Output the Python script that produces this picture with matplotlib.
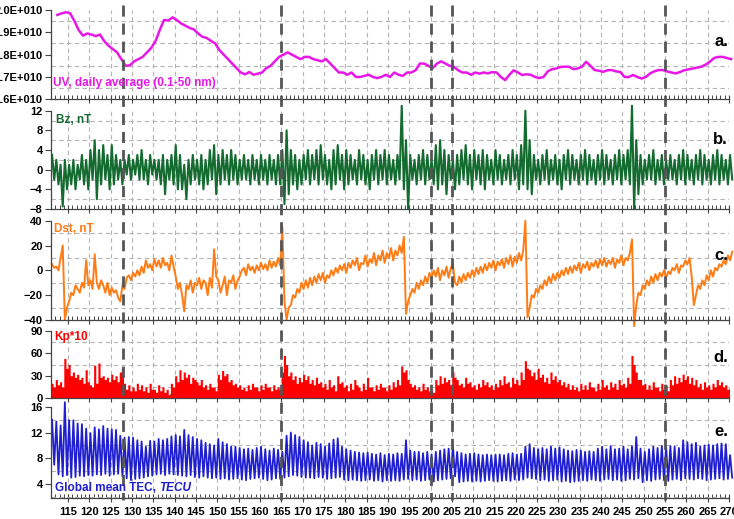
import numpy as np
import matplotlib
matplotlib.use("Agg")
import matplotlib.pyplot as plt
from matplotlib.ticker import MultipleLocator, FuncFormatter
from matplotlib.lines import Line2D
import matplotlib.transforms as mtransforms

plt.rcParams['font.family'] = ['Liberation Sans', 'DejaVu Sans']
plt.rcParams['font.weight'] = 'bold'

# ---------------- data ----------------
days = np.arange(111, 271)          # day of year
uv_days = np.arange(112, 271)

# UV daily average flux, units of 1e10
uv = [1.978, 1.985, 1.99, 1.985, 1.95, 1.91, 1.885, 1.895, 1.89, 1.883,
      1.89, 1.86, 1.84, 1.825, 1.81, 1.78, 1.75, 1.752, 1.77, 1.78,
      1.79, 1.81, 1.83, 1.86, 1.91, 1.955, 1.953, 1.967, 1.955, 1.94,
      1.93, 1.92, 1.913, 1.895, 1.88, 1.875, 1.862, 1.85, 1.82, 1.80,
      1.78, 1.76, 1.74, 1.72, 1.712, 1.722, 1.71, 1.715, 1.72, 1.74,
      1.75, 1.77, 1.79, 1.80, 1.81, 1.80, 1.79, 1.78, 1.79, 1.79,
      1.78, 1.775, 1.77, 1.78, 1.76, 1.74, 1.72, 1.72, 1.71, 1.72,
      1.70, 1.70, 1.705, 1.71, 1.70, 1.695, 1.70, 1.71, 1.70, 1.72,
      1.71, 1.705, 1.72, 1.72, 1.73, 1.76, 1.76, 1.75, 1.74, 1.76,
      1.77, 1.76, 1.75, 1.745, 1.73, 1.72, 1.72, 1.71, 1.72, 1.715,
      1.72, 1.716, 1.722, 1.72, 1.70, 1.686, 1.71, 1.73, 1.72, 1.709,
      1.712, 1.71, 1.70, 1.695, 1.70, 1.725, 1.735, 1.738, 1.745, 1.746,
      1.746, 1.735, 1.738, 1.746, 1.768, 1.75, 1.731, 1.728, 1.723, 1.73,
      1.731, 1.725, 1.723, 1.70, 1.70, 1.709, 1.70, 1.693, 1.70, 1.716,
      1.725, 1.731, 1.731, 1.725, 1.72, 1.716, 1.722, 1.73, 1.734, 1.738,
      1.742, 1.746, 1.755, 1.768, 1.785, 1.79, 1.79, 1.785, 1.78]

# IMF Bz, nT (two samples per day, time order)
bz = [3, -2, 2, -3, 1, -7.5, 2, -4, 1, -3,
      2, -4, 1, -2, 3, -3, 2, -4, 4, -2,
      6, -6, 4, -3, 5, -2, 3, -4, 5, -3,
      3, -2, 2, -3, 2, -1, 3, -2, 2, -1,
      3, -2, 4, -2, 2, -3, 3, -1, 2, -2,
      2, -3, 3, -5, 2, -2, 3, -3, 5, -4,
      3, -4, 1, -6, 2, -3, 3, -2, 2, -3,
      3, -4, 2, -3, 4, -2, 5, -5, 3, -3,
      4, -2, 3, -3, 4, -2, 3, -3, 2, -2,
      3, -2, 2, -3, 3, -2, 2, -3, 3, -2,
      2, -3, 3, -2, 2, -3, 3, -3, 4, -7,
      8, -5, 4, -3, 3, -4, 2, -3, 3, -2,
      4, -3, 3, -2, 4, -3, 5, -2, 3, -3,
      2, -4, 4, -3, 5, -2, 3, -4, 4, -3,
      3, -2, 2, -3, 4, -2, 3, -3, 2, -4,
      3, -2, 4, -3, 3, -2, 4, -3, 3, -2,
      2, -3, 3, -2, 13, -4, 6, -8, 3, -2,
      2, -3, 3, -2, 4, -3, 3, -2, 2, -3,
      5, -4, 6, -3, 4, -5, 3, -2, 2, -4,
      3, -3, 4, -2, 5, -3, 3, -4, 4, -2,
      3, -3, 4, -4, 3, -2, 2, -3, 4, -2,
      3, -3, 2, -2, 3, -3, 4, -2, 3, -4,
      5, -3, 12, -4, 6, -5, 3, -2, 2, -3,
      3, -2, 4, -3, 2, -2, 3, -3, 2, -4,
      3, -2, 4, -3, 3, -2, 2, -3, 3, -2,
      4, -3, 3, -2, 2, -3, 3, -2, 4, -3,
      3, -2, 2, -3, 3, -2, 4, -3, 3, -2,
      4, -3, 13, -8, 6, -5, 3, -3, 2, -2,
      3, -2, 4, -3, 2, -2, 3, -3, 2, -2,
      3, -2, 2, -3, 3, -2, 4, -3, 3, -2,
      2, -3, 3, -2, 4, -3, 3, -2, 2, -3,
      3, -2, 4, -3, 3, -2, 2, -3, 3, -2]

# Dst, nT (two samples per day, time order)
dst = [5, 2, 3, 0, 10, 20, -40, -30, -25, -18,
       -20, -12, -15, -18, -10, -14, 8, -12, -8, -15,
       13, -10, -15, -8, -12, -18, -10, -20, -14, -18,
       -16, -22, -25, -12, -15, -6, -4, -8, -2, -5,
       0, -4, 3, -2, 8, 2, 5, 0, 9, 3,
       8, 2, 10, 4, 6, 0, 12, 3, -5, -15,
       -10, -20, -33, -12, -15, -8, -18, -10, -12, -6,
       -15, -8, -10, -20, -6, -14, 17, -5, -8, -18,
       -12, -5, -20, -8, -10, -4, -15, -8, -5, 0,
       2, -4, 5, 0, 3, -2, 4, 0, 6, 1,
       5, 0, 8, 2, 7, 3, 10, 4, 35, -25,
       -40, -30, -28, -20, -22, -15, -18, -10, -15, -8,
       -14, -6, -12, -5, -10, -3, -8, -2, -10, -4,
       -6, 0, -4, 2, -2, 4, 0, 5, -2, 6,
       2, 8, 4, 10, 0, 6, 5, 12, 3, 9,
       6, 14, 4, 12, 8, 16, 6, 14, 10, 18,
       8, 16, 12, 20, 14, 27, -35, -25, -20, -15,
       -18, -10, -15, -8, -12, -5, -10, -2, -6, 0,
       -5, 2, -8, 0, -4, 3, -6, 2, 5, -10,
       -12, -5, -10, -3, -8, -2, -6, 0, -5, 2,
       -3, 3, -2, 5, 0, 6, 2, 8, 0, 7,
       4, 9, 2, 10, 5, 12, 3, 11, 6, 14,
       8, 16, 40, -38, -30, -20, -22, -15, -18, -12,
       -15, -8, -12, -5, -10, -3, -8, -2, -6, 0,
       -4, 2, -3, 3, -2, 4, 0, 6, -2, 5,
       2, 7, 0, 6, 3, 8, 2, 9, 4, 10,
       3, 8, 5, 10, 2, 9, 6, 12, 4, 10,
       8, 14, 25, -45, -28, -18, -20, -12, -15, -8,
       -12, -5, -10, -3, -8, -2, -5, 0, -6, -1,
       -3, 2, 0, 5, -2, 4, 3, 8, 5, 10,
       -5, -28, -20, -12, -15, -8, -12, -4, -8, 0,
       -5, 2, 0, 5, 3, 8, 5, 12, 8, 15]

# Kp*10 (two samples per day, time order)
kp10 = [20, 15, 25, 18, 22, 15, 53, 40, 45, 30,
        35, 28, 32, 25, 28, 20, 38, 22, 18, 15,
        44, 20, 47, 28, 30, 25, 28, 22, 32, 25,
        30, 22, 35, 40, 20, 12, 18, 10, 15, 10,
        20, 12, 18, 10, 15, 8, 20, 12, 12, 8,
        18, 10, 15, 8, 12, 5, 20, 15, 30, 22,
        38, 25, 35, 28, 32, 20, 28, 25, 22, 18,
        25, 15, 18, 12, 20, 15, 15, 10, 32, 25,
        37, 30, 33, 22, 25, 18, 20, 15, 18, 12,
        15, 10, 18, 12, 20, 15, 15, 10, 18, 12,
        20, 15, 15, 10, 18, 12, 15, 12, 35, 57,
        45, 30, 35, 25, 30, 20, 28, 22, 32, 25,
        30, 20, 25, 18, 28, 20, 22, 15, 20, 12,
        25, 15, 18, 10, 30, 20, 22, 15, 18, 10,
        20, 12, 25, 18, 15, 10, 20, 12, 28, 15,
        15, 10, 18, 12, 20, 15, 15, 10, 18, 12,
        22, 15, 25, 18, 43, 35, 38, 25, 20, 15,
        18, 12, 15, 10, 20, 12, 15, 10, 12, 8,
        25, 18, 30, 20, 28, 22, 25, 18, 35, 28,
        25, 18, 20, 15, 28, 20, 22, 15, 18, 12,
        20, 15, 25, 18, 22, 15, 18, 12, 20, 15,
        25, 18, 30, 20, 22, 15, 28, 20, 25, 18,
        35, 25, 50, 40, 38, 30, 35, 25, 40, 28,
        32, 22, 28, 20, 35, 25, 30, 22, 25, 18,
        22, 15, 20, 12, 18, 12, 15, 10, 20, 12,
        18, 12, 22, 15, 15, 10, 20, 12, 25, 15,
        18, 12, 22, 15, 20, 12, 25, 18, 20, 15,
        28, 20, 57, 45, 35, 25, 25, 18, 20, 12,
        18, 12, 22, 15, 15, 10, 20, 12, 18, 10,
        25, 18, 30, 20, 28, 22, 32, 25, 30, 20,
        28, 18, 25, 15, 20, 12, 22, 15, 18, 12,
        20, 15, 25, 18, 22, 15, 18, 12, 15, 10]

# global mean TEC, TECU: daily maximum and minimum
tec_max = [14.0, 13.7, 13.1, 16.7, 13.9, 13.9, 13.4, 13.3, 12.6, 11.9,
           12.8, 12.5, 13.0, 12.6, 12.5, 12.4, 11.5, 11.2, 11.3, 11.2,
           10.8, 10.6, 9.8, 10.7, 10.6, 11.0, 10.8, 11.0, 11.4, 11.6,
           11.4, 12.4, 11.6, 11.3, 11.0, 10.8, 10.4, 10.2, 10.0, 11.0,
           10.5, 10.2, 9.8, 9.8, 9.6, 9.4, 9.5, 9.3, 9.6, 9.8,
           9.4, 9.2, 9.5, 9.3, 9.0, 11.5, 12.0, 11.6, 11.3, 10.8,
           10.5, 10.0, 10.4, 10.2, 9.8, 10.3, 10.9, 11.1, 9.8, 9.4,
           9.2, 9.0, 8.9, 8.8, 8.9, 8.7, 8.6, 8.8, 8.5, 8.7,
           8.6, 8.8, 8.7, 10.8, 9.2, 9.0, 9.0, 8.8, 9.0, 8.6,
           9.0, 9.2, 9.4, 9.5, 10.0, 9.0, 8.8, 8.6, 8.7, 8.8,
           8.6, 8.5, 8.6, 8.5, 8.6, 8.6, 8.5, 8.7, 8.8, 8.6,
           8.7, 9.8, 10.2, 9.6, 9.4, 9.6, 9.4, 9.8, 9.5, 9.7,
           9.4, 9.2, 9.1, 9.3, 9.2, 9.0, 9.1, 9.0, 9.5, 9.8,
           9.4, 9.9, 9.4, 9.5, 9.8, 9.4, 9.9, 11.3, 9.5, 9.0,
           9.4, 9.8, 9.6, 9.9, 9.8, 9.9, 9.8, 9.6, 10.8, 10.5,
           10.2, 10.4, 9.8, 10.0, 10.1, 10.0, 10.2, 10.3, 10.2, 8.5]
tec_min = [7.0, 5.5, 5.2, 5.4, 5.0, 5.1, 5.3, 5.2, 5.4, 5.3,
           5.5, 5.4, 5.6, 5.3, 5.5, 5.6, 5.2, 4.9, 4.6, 4.8,
           4.9, 5.0, 5.2, 5.3, 5.5, 5.6, 5.4, 5.6, 5.5, 5.4,
           5.3, 5.2, 5.4, 5.1, 5.0, 5.2, 5.0, 4.9, 5.0, 4.8,
           4.9, 4.7, 4.8, 4.9, 4.7, 4.6, 4.8, 4.9, 5.0, 4.8,
           4.6, 4.7, 4.9, 4.8, 5.0, 5.2, 5.4, 5.3, 5.1, 5.0,
           5.0, 4.9, 5.1, 5.0, 4.8, 4.9, 5.0, 5.1, 4.7, 4.6,
           4.7, 4.6, 4.5, 4.6, 4.7, 4.5, 4.6, 4.4, 4.6, 4.5,
           4.6, 4.5, 4.7, 4.8, 4.6, 4.7, 4.5, 4.6, 4.7, 4.4,
           4.6, 4.7, 4.8, 4.9, 5.2, 4.3, 4.4, 4.5, 4.4, 4.5,
           4.4, 4.5, 4.6, 4.5, 4.4, 4.5, 4.6, 4.5, 4.7, 4.6,
           4.7, 5.0, 4.9, 4.8, 4.6, 4.7, 4.5, 4.6, 4.7, 4.4,
           4.5, 4.3, 4.4, 4.5, 4.6, 4.5, 4.7, 4.6, 4.5, 4.7,
           4.8, 4.6, 4.7, 4.5, 4.6, 4.8, 4.7, 4.9, 4.3, 4.6,
           4.5, 4.7, 4.8, 4.6, 4.5, 4.7, 4.8, 4.6, 4.9, 4.8,
           4.7, 4.9, 4.8, 4.6, 4.7, 4.8, 4.9, 4.7, 4.8, 5.0]

event_days = [128, 165, 200, 205, 255]

# ---------------- layout ----------------
W, H = 734, 519
fig = plt.figure(figsize=(W / 100, H / 100), dpi=100)

def px_axes(top, bottom):
    return fig.add_axes([51 / W, 1 - bottom / H, 678 / W, (bottom - top) / H])

ax_a = px_axes(10, 99.3)
ax_b = px_axes(110.7, 209)
ax_c = px_axes(220.7, 320)
ax_d = px_axes(330.7, 398.3)
ax_e = px_axes(406.7, 498.3)
axes = [ax_a, ax_b, ax_c, ax_d, ax_e]

t2 = (days[:, None] + np.array([0.25, 0.75])[None, :]).ravel()

ax_a.plot(uv_days + 0.5, uv, color='#e817e8', lw=1.8, clip_on=False)
ax_b.plot(t2, bz, color='#136b30', lw=1.5, clip_on=False)
ax_c.plot(t2, dst, color='#ff7b14', lw=1.4, clip_on=False)
tk = (days[:, None] + np.array([0.0, 0.5])[None, :]).ravel()
ax_d.fill_between(tk, 0, kp10, step='post', color='#ff0000', lw=0)
tec = np.column_stack([tec_max, tec_min]).ravel()
ax_e.plot(t2, tec, color='#1f1fd0', lw=1.3, clip_on=False)

ylims = [(1.6, 2.0), (-8, 12), (-40, 40), (0, 90), (1.8, 16)]
ymajor = [0.1, 4, 20, 30, 4]
for ax, yl, step in zip(axes, ylims, ymajor):
    ax.set_xlim(111, 270)
    ax.set_ylim(*yl)
    ax.set_facecolor('none')
    ax.xaxis.set_major_locator(MultipleLocator(5))
    ax.xaxis.set_minor_locator(MultipleLocator(1))
    ax.yaxis.set_major_locator(MultipleLocator(step))
    ax.yaxis.set_minor_locator(MultipleLocator(step / 2))
    for s in ['top', 'right']:
        ax.spines[s].set_visible(False)
    for s in ['left', 'bottom']:
        ax.spines[s].set_color('#444444')
        ax.spines[s].set_linewidth(0.9)
    ax.tick_params(axis='x', which='major', direction='inout', length=6,
                   width=0.8, color='#444444', labelsize=8, pad=3)
    ax.tick_params(axis='x', which='minor', direction='in', length=3,
                   width=0.7, color='#444444')
    ax.tick_params(axis='y', which='major', direction='out', length=4,
                   width=0.8, color='#444444', labelsize=8, pad=2)
    ax.tick_params(axis='y', which='minor', length=0)
    ax.xaxis.grid(True, which='major', color='#b5b5b5', ls=(0, (4, 3)), lw=0.8)
    ax.yaxis.grid(True, which='minor', color='#b5b5b5', ls=(0, (4, 3)), lw=0.8)
    ax.set_axisbelow(True)
    if ax is not ax_e:
        ax.tick_params(axis='x', labelbottom=False)

ax_e.set_xticks(np.arange(115, 271, 5))
ax_a.set_yticks([1.6, 1.7, 1.8, 1.9, 2.0])
ax_a.yaxis.set_major_formatter(FuncFormatter(lambda v, p: f"{v:.1f}E+010"))
ax_e.set_yticks([4, 8, 12, 16])

# event lines through all panels
trans = mtransforms.blended_transform_factory(ax_e.transData, fig.transFigure)
for d in event_days:
    fig.add_artist(Line2D([d, d], [1 - 5 / H, 1 - 500 / H], transform=trans,
                          color='#555555', lw=2.0, ls=(0, (4, 2.5))))

# panel labels
kw = dict(fontsize=8.5, fontweight='bold', va='center', ha='left')
fig.text(53 / W, 1 - 83 / H, 'UV, daily average (0.1-50 nm)', color='#e817e8', **kw)
fig.text(56 / W, 1 - 120 / H, 'Bz, nT', color='#136b30', **kw)
fig.text(54 / W, 1 - 229 / H, 'Dst, nT', color='#ff7b14', **kw)
fig.text(54 / W, 1 - 337 / H, 'Kp*10', color='#ff0000', **kw)
t1 = fig.text(55 / W, 1 - 488 / H, 'Global mean TEC, ', color='#1f1fd0', **kw)
ax_e.annotate('TECU', xy=(1, 0), xycoords=t1, va='bottom', ha='left',
              fontsize=8.5, fontweight='bold', style='italic', color='#1f1fd0')

for lab, y in zip(['a.', 'b.', 'c.', 'd.', 'e.'], [42, 140, 255, 358, 432]):
    fig.text(728 / W, 1 - y / H, lab, fontsize=12, fontweight='bold',
             ha='right', va='center', color='black')

fig.savefig('out.png', dpi=100)
